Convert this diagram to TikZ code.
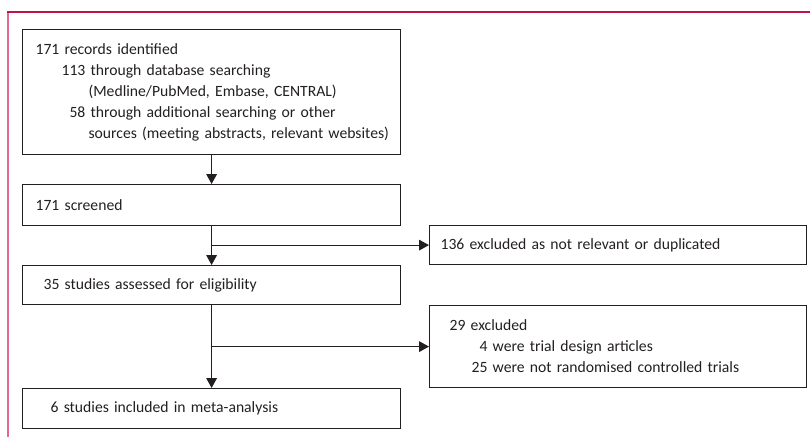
\documentclass[tikz,border=0pt]{standalone}
\usepackage{fontspec}
\setmainfont{Carlito}[WordSpace=0.7]
\usetikzlibrary{arrows.meta}

\definecolor{lancetred}{RGB}{198,16,72}
\definecolor{lancetpink}{RGB}{228,104,150}
\definecolor{inkgray}{RGB}{35,31,32}

\tikzset{every picture/.style={line width=0.75pt}}
\tikzset{
  flowbox/.style={draw=inkgray, line width=0.9pt, anchor=north west, align=left, inner ysep=0pt,
    font=\fontsize{11.75}{15.75}\selectfont, text=inkgray},
  flowarrow/.style={draw=inkgray, line width=0.9pt, -{Triangle[width=8pt,length=7.5pt]}},
}

\begin{document}
\begin{tikzpicture}[x=0.75pt,y=0.75pt,yscale=-1,xscale=1]
\useasboundingbox (0,0) rectangle (810,437);

% Frame
\draw [lancetpink, line width=1.1pt] (8,437) -- (8,12.5);
\draw [lancetred, line width=1.1pt] (7.4,12) -- (810,12);

% Main column
\node [flowbox, minimum height=93.75pt, text width=264pt, inner xsep=9.75pt] (ident) at (22,29)
  {171 records identified\\
   \hspace*{19.5pt}113 through database searching\\
   \hspace*{39.75pt}(Medline/PubMed, Embase, CENTRAL)\\
   \hspace*{19.5pt}\phantom{1}58 through additional searching or other\\
   \hspace*{39.75pt}\mbox{sources (meeting abstracts, relevant websites)}};
\node [flowbox, minimum height=30.75pt, text width=264pt, inner xsep=9.75pt] (screen) at (22,184)
  {171 screened};
\node [flowbox, minimum height=29.25pt, text width=252pt, inner xsep=15.75pt] (assess) at (22,265)
  {35 studies assessed for eligibility};
\node [flowbox, minimum height=30pt, text width=241.5pt, inner xsep=21pt] (incl) at (22,388)
  {6 studies included in meta-analysis};

% Exclusions
\node [flowbox, minimum height=29.25pt, text width=266.25pt, inner xsep=8.25pt] (notrel) at (429,225)
  {136 excluded as not relevant or duplicated};
\node [flowbox, minimum height=61.5pt, text width=252.75pt, inner xsep=15pt] (excl) at (429,305)
  {29 excluded\\
   \hspace*{16.5pt}\phantom{2}4 were trial design articles\\
   \hspace*{16.5pt}25 were not randomised controlled trials};

% Arrows
\draw [flowarrow] (ident) -- (screen);
\draw [flowarrow] (screen) -- (assess);
\draw [flowarrow] (screen.south |- notrel.west) -- (notrel.west);
\draw [flowarrow] (assess) -- (incl);
\draw [flowarrow] (assess.south |- excl.west) -- (excl.west);

\end{tikzpicture}
\end{document}
